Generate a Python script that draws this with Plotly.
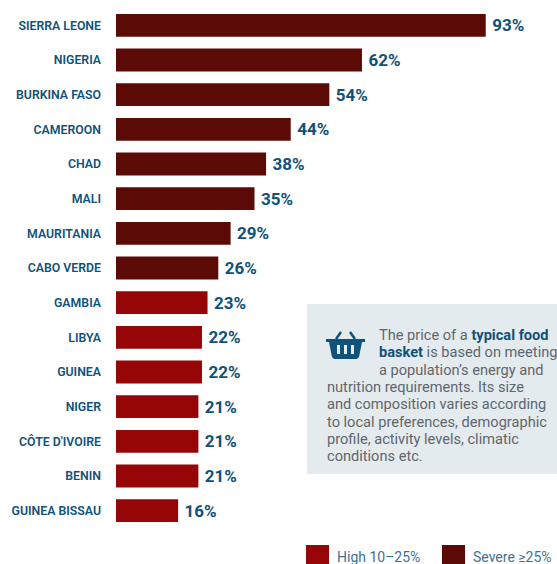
import plotly.graph_objects as go

countries = ["SIERRA LEONE","NIGERIA","BURKINA FASO","CAMEROON","CHAD","MALI","MAURITANIA","CABO VERDE",
             "GAMBIA","LIBYA","GUINEA","NIGER","CÔTE D'IVOIRE","BENIN","GUINEA BISSAU"]
values = [93,62,54,44,38,35,29,26,23,22,22,21,21,21,16]
levels = ["Severe"]*8 + ["High"]*7
plot_values = [92.9,61.8,53.6,43.9,37.7,34.8,28.8,25.7,23.0,21.6,21.6,20.7,20.7,20.7,15.6]
SEVERE = "#5b0a06"
HIGH = "#970606"
BLUE = "#0f5279"
GREY = "#5f666c"
W, H = 557, 564
ML, MT, MB = 116, 8, 36
def px(x): return (x - ML) / (W - ML)
def py(y): return 1 - (y - MT) / (H - MT - MB)

note_lines = [
    (377, 335, [("The price of a ", False), ("typical food", True)]),
    (377, 352, [("basket", True), (" is based on meeting", False)]),
    (377, 370, [("a population’s energy and", False)]),
    (325, 387, [("nutrition requirements. Its size", False)]),
    (325, 404, [("and composition varies according", False)]),
    (325, 422, [("to local preferences, demographic", False)]),
    (325, 439, [("profile, activity levels, climatic", False)]),
    (325, 456, [("conditions etc.", False)]),
]

fig = go.Figure()
sev_idx = [i for i, l in enumerate(levels) if l == "Severe"]
hi_idx = [i for i, l in enumerate(levels) if l == "High"]
for idx, col, name in [(sev_idx, SEVERE, "Severe ≥25%"), (hi_idx, HIGH, "High 10–25%")]:
    fig.add_trace(go.Bar(
        y=[countries[i] for i in idx], x=[plot_values[i] for i in idx], orientation="h",
        marker=dict(color=col, line_width=0), name=name,
        text=[f"\u2009{values[i]}%" for i in idx], textposition="outside", cliponaxis=False,
        outsidetextfont=dict(family="Roboto", size=17, color=BLUE, weight=700),
        showlegend=False,
    ))

shapes = [dict(type="rect", xref="paper", yref="paper", x0=px(307), x1=px(557), y0=py(304), y1=py(474),
               fillcolor="#e4ebef", line_width=0, layer="below"),
          dict(type="rect", xref="paper", yref="paper", x0=px(306), x1=px(329), y0=py(545), y1=py(564),
               fillcolor=HIGH, line_width=0),
          dict(type="rect", xref="paper", yref="paper", x0=px(442), x1=px(465), y0=py(545), y1=py(564),
               fillcolor=SEVERE, line_width=0)]
# basket icon
def P(x, y): return f"{px(x):.5f},{py(y):.5f}"
body = ("M" + P(326, 339) + "L" + P(365, 339) + "L" + P(365, 342) + "L" + P(362, 342) + "L" + P(359, 357)
        + "L" + P(357, 359) + "L" + P(334, 359) + "L" + P(332, 357) + "L" + P(329, 342) + "L" + P(326, 342) + "Z")
shapes.append(dict(type="path", xref="paper", yref="paper", path=body, fillcolor=BLUE, line_width=0))
for xa, xb in [(337, 340), (344, 347), (351, 354)]:
    shapes.append(dict(type="rect", xref="paper", yref="paper", x0=px(xa), x1=px(xb), y0=py(345), y1=py(354),
                       fillcolor="#e4ebef", line_width=0))
for a, b in [((336, 339), (341, 332)), ((355, 339), (350, 332))]:
    shapes.append(dict(type="line", xref="paper", yref="paper", x0=px(a[0]), y0=py(a[1]), x1=px(b[0]), y1=py(b[1]),
                       line=dict(color=BLUE, width=2.5)))

annotations = []
for x, y, parts in note_lines:
    txt = "".join(f"<b><span style='color:{BLUE}'>{t}</span></b>" if b else t for t, b in parts)
    annotations.append(dict(text=txt, xref="paper", yref="paper", x=px(x), y=py(y), xanchor="left", yanchor="middle",
                            showarrow=False, align="left", font=dict(family="Roboto", size=14.6, color=GREY)))
annotations.append(dict(text="High 10–25%", xref="paper", yref="paper", x=px(335), y=py(557), xanchor="left", yanchor="middle",
                        showarrow=False, font=dict(family="Roboto", size=14, color="#3f7191")))
annotations.append(dict(text="Severe ≥25%", xref="paper", yref="paper", x=px(471), y=py(557), xanchor="left", yanchor="middle",
                        showarrow=False, font=dict(family="Roboto", size=14, color="#3f7191")))

fig.update_layout(
    width=W, height=H, autosize=False,
    margin=dict(l=ML, r=0, t=MT, b=MB, pad=0),
    paper_bgcolor="white", plot_bgcolor="white",
    barmode="overlay", bargap=0.34, showlegend=False,
    shapes=shapes, annotations=annotations,
    xaxis=dict(range=[0, (W-ML)/3.98], visible=False),
    yaxis=dict(categoryorder="array", categoryarray=countries[::-1], showgrid=False, zeroline=False, showline=False,
               ticks="", ticklabelstandoff=14,
               tickfont=dict(family="Roboto", size=12.3, color=BLUE, weight=600)),
)
fig.write_html("out.html", config=dict(displayModeBar=False),
               post_script="document.body.style.margin='0';document.body.style.overflow='hidden';")
